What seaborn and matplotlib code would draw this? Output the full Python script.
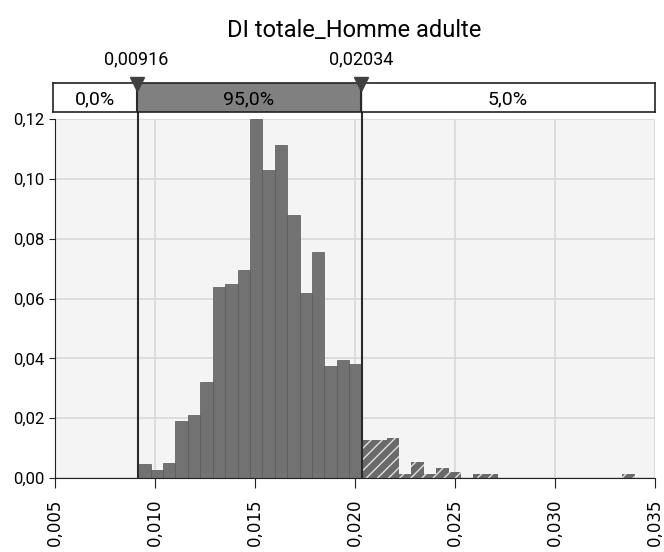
import numpy as np
import pandas as pd
import seaborn as sns
from matplotlib import pyplot as plt
from matplotlib.ticker import FuncFormatter

sns.set_style("white")
plt.rcParams["font.family"] = ["Roboto", "DejaVu Sans"]
plt.rcParams["hatch.linewidth"] = 1.0
plt.rcParams["text.color"] = "black"
plt.rcParams["xtick.color"] = "black"
plt.rcParams["ytick.color"] = "black"

# valeurs
title = "DI totale_Homme adulte"
low_cut = 0.00916
high_cut = 0.02034
n_inner_bins = 18
probs = [0.0047, 0.0027, 0.0050, 0.0190, 0.0210, 0.0320, 0.0640, 0.0650, 0.0695,
         0.1200, 0.1030, 0.1115, 0.0880, 0.0620, 0.0755, 0.0374, 0.0394, 0.0380,
         0.0127, 0.0127, 0.0134, 0.0013, 0.0053, 0.0013, 0.0033, 0.0020, 0.0000,
         0.0013, 0.0013, 0.0000, 0.0000, 0.0000, 0.0000, 0.0000, 0.0000, 0.0000,
         0.0000, 0.0000, 0.0000, 0.0013]
band_labels = ["0,0%", "95,0%", "5,0%"]
x_ticks = [0.005, 0.010, 0.015, 0.020, 0.025, 0.030, 0.035]
y_ticks = [0.00, 0.02, 0.04, 0.06, 0.08, 0.10, 0.12]

bin_w = (high_cut - low_cut) / n_inner_bins
edges = low_cut + bin_w * np.arange(len(probs) + 1)
df = pd.DataFrame({"x": (edges[:-1] + edges[1:]) / 2, "p": probs})

fig = plt.figure(figsize=(6.64, 5.52), dpi=100)
ax = fig.add_axes([0.083, 0.134, 0.903, 0.650])
ax_top = fig.add_axes([0.080, 0.797, 0.906, 0.053])

ax.set_facecolor("#f4f4f4")
sns.histplot(data=df, x="x", weights="p", bins=list(edges), stat="count",
             color="#727272", alpha=1, edgecolor="#585858", linewidth=0.5, ax=ax)
for patch in ax.patches:
    if patch.get_x() >= high_cut - bin_w / 4:
        patch.set_hatch("///")
        patch.set_edgecolor("#e0e0e0")
        patch.set_linewidth(0)
        patch.set_facecolor("#6a6a6a")

ax.set_xlim(x_ticks[0], x_ticks[-1])
ax.set_ylim(0, 0.12)
ax.set_xticks(x_ticks)
ax.set_yticks(y_ticks)
ax.xaxis.set_major_formatter(FuncFormatter(lambda v, _: f"{v:.3f}".replace(".", ",")))
ax.yaxis.set_major_formatter(FuncFormatter(lambda v, _: f"{v:.2f}".replace(".", ",")))
ax.tick_params(axis="x", labelsize=12, rotation=90, length=7, pad=8, direction="out",
               bottom=True, color="#222222")
ax.tick_params(axis="y", labelsize=12, length=4, direction="out", left=True,
               color="#222222")
for lab in ax.get_xticklabels():
    lab.set_fontfamily("DejaVu Sans")
ax.grid(True, color="#d9d9d9", linewidth=1.2)
ax.set_axisbelow(True)
for side in ["top", "right"]:
    ax.spines[side].set_visible(False)
ax.spines["left"].set_color("#222222")
ax.spines["bottom"].set_color("#222222")
ax.set_xlabel("")
ax.set_ylabel("")

for cut in [low_cut, high_cut]:
    ax.axvline(cut, ymin=0, ymax=1.02, color="#2a2a2a", linewidth=1.5, clip_on=False, zorder=5)

# bandeau des probabilités
ax_top.set_xlim(x_ticks[0], x_ticks[-1])
ax_top.set_ylim(0, 1)
ax_top.axvspan(low_cut, high_cut, color="#808080")
for cut in [low_cut, high_cut]:
    ax_top.axvline(cut, color="#2a2a2a", linewidth=1.5)
    ax_top.plot(cut, 0.95, marker="v", markersize=10, color="#404040", clip_on=False, zorder=6)
    ax_top.text(cut, 1.5, f"{cut:.5f}".replace(".", ","), ha="center", va="bottom",
                fontsize=13)
mids = [(x_ticks[0] + low_cut) / 2, (low_cut + high_cut) / 2, (high_cut + x_ticks[-1]) / 2]
for m, lab in zip(mids, band_labels):
    ax_top.text(m, 0.45, lab, ha="center", va="center", fontsize=14)
ax_top.set_xticks([])
ax_top.set_yticks([])
for s in ax_top.spines.values():
    s.set_color("#222222")
    s.set_linewidth(1.2)

fig.text(0.533, 0.945, title, ha="center", va="center", fontsize=17)

plt.savefig("out.png", dpi=100)
plt.close()
